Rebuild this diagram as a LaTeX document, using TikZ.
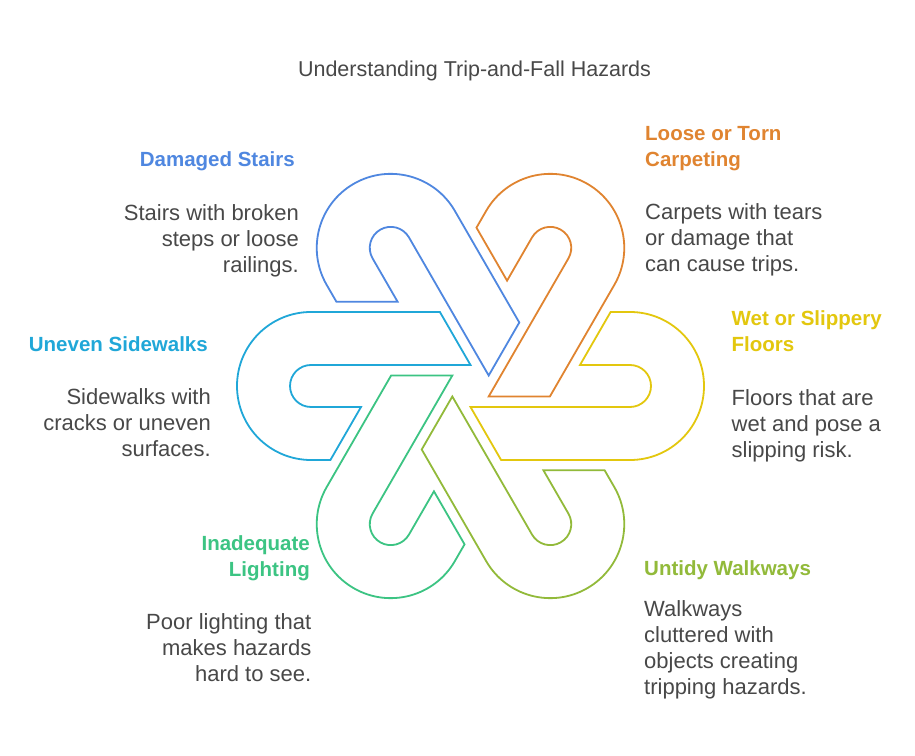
\documentclass[tikz,border=0pt]{standalone}
\usepackage{fontspec}
\setmainfont{Liberation Sans}
\definecolor{cBlue}{HTML}{4F87E0}
\definecolor{cOrange}{HTML}{E08430}
\definecolor{cYellow}{HTML}{E3C70E}
\definecolor{cCyan}{HTML}{20A7D8}
\definecolor{cGreen}{HTML}{3CC483}
\definecolor{cOlive}{HTML}{92BA3A}
\definecolor{txt}{HTML}{484848}
\begin{document}
\begin{tikzpicture}[x=1pt,y=1pt,
  hz/.style={line width=1.8pt},
  head/.style={font=\bfseries\fontsize{20.5}{26}\selectfont, inner sep=0pt},
  body/.style={font=\fontsize{22}{26}\selectfont, text=txt, inner sep=0pt},
]
\useasboundingbox (0,0) rectangle (915,755);
\fill[white] (0,0) rectangle (915,755);

\foreach \ang/\col in {0/cYellow,60/cOrange,120/cBlue,180/cCyan,240/cGreen,300/cOlive}{
  \draw[hz,draw=\col,shift={(470.5,369)},rotate=\ang]
    (159.5,74) arc[start angle=90,end angle=-90,radius=74]
    -- (30.6,-74) -- (0,-21) -- (159.5,-21)
    arc[start angle=-90,end angle=90,radius=21]
    -- (109.5,21) -- (140.1,74) -- cycle;
}

\node[font=\fontsize{21.5}{26}\selectfont, text=txt, inner sep=0pt, anchor=base] (title) at (474.5,678.5) {Understanding Trip-and-Fall Hazards};

\node[head, text=cBlue, anchor=base east] (h1) at (295,588.5) {Damaged Stairs};
\node[body, align=right, anchor=north east] (b1) at (299,551) {\rule{0pt}{16pt}Stairs with broken\\steps or loose\\railings.};

\node[head, text=cOrange, align=left, anchor=north west] (h2) at (645,631) {\rule{0pt}{16pt}Loose or Torn\\Carpeting};
\node[body, align=left, anchor=north west] (b2) at (645,551.5) {\rule{0pt}{16pt}Carpets with tears\\or damage that\\can cause trips.};

\node[head, text=cYellow, align=left, anchor=north west] (h3) at (731.5,446) {\rule{0pt}{16pt}Wet or Slippery\\Floors};
\node[body, align=left, anchor=north west] (b3) at (731.5,366) {\rule{0pt}{16pt}Floors that are\\wet and pose a\\slipping risk.};

\node[head, text=cCyan, anchor=base east] (h4) at (208,403.5) {Uneven Sidewalks};
\node[body, align=right, anchor=north east] (b4) at (211,366.5) {\rule{0pt}{16pt}Sidewalks with\\cracks or uneven\\surfaces.};

\node[head, text=cGreen, align=right, anchor=north east] (h5) at (310,221) {\rule{0pt}{16pt}Inadequate\\Lighting};
\node[body, align=right, anchor=north east] (b5) at (311.5,142) {\rule{0pt}{16pt}Poor lighting that\\makes hazards\\hard to see.};

\node[head, text=cOlive, anchor=base west] (h6) at (644,179) {Untidy Walkways};
\node[body, align=left, anchor=north west] (b6) at (644,155) {\rule{0pt}{16pt}Walkways\\cluttered with\\objects creating\\tripping hazards.};
\end{tikzpicture}
\end{document}
